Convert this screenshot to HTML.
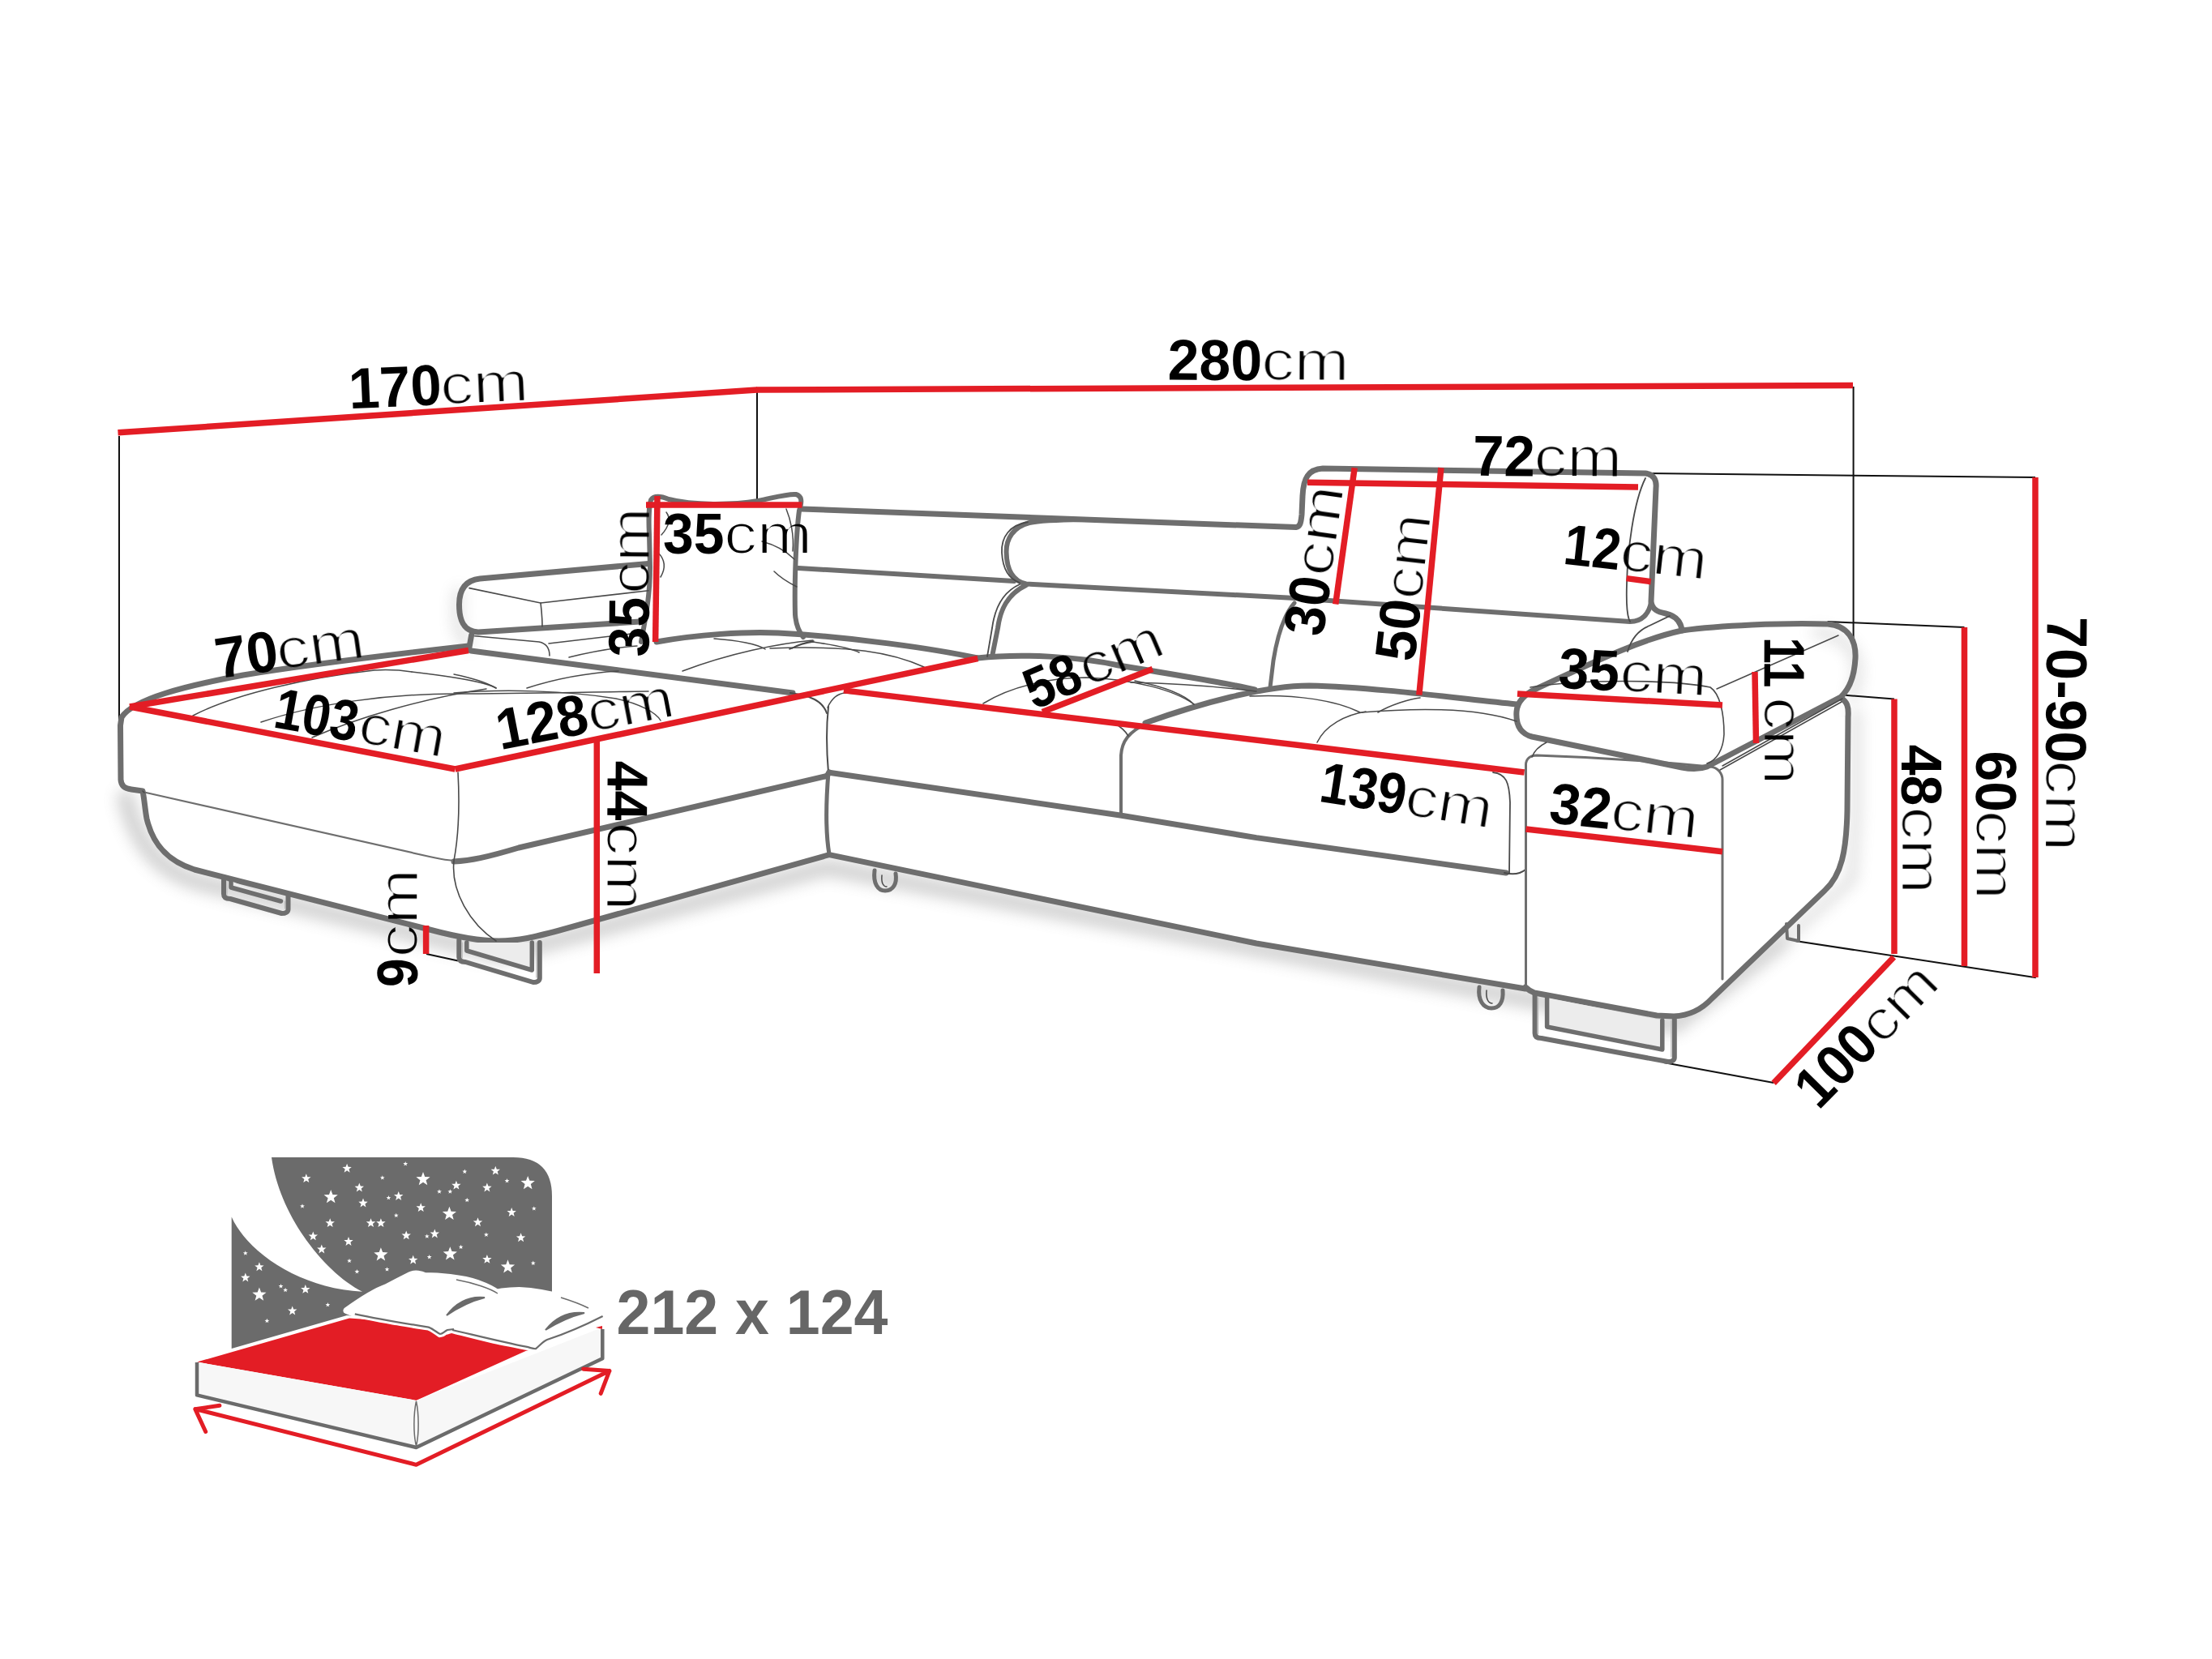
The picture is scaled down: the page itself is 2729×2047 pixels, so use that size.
<!DOCTYPE html>
<html><head><meta charset="utf-8"><style>
html,body{margin:0;padding:0;background:#fff;width:2729px;height:2047px;overflow:hidden}
svg{display:block}
text{font-family:"Liberation Sans", sans-serif;fill:#000}
</style></head><body>
<svg width="2729" height="2047" viewBox="0 0 2729 2047">
<defs><filter id="thin" x="-10%" y="-20%" width="120%" height="140%"><feMorphology operator="erode" radius="1"/></filter><filter id="blur" x="-20%" y="-20%" width="140%" height="140%"><feGaussianBlur stdDeviation="9"/></filter></defs>
<rect width="2729" height="2047" fill="#fff"/>
<g filter="url(#blur)" opacity="0.32">
<path d="M 155,985 C 170,1045 200,1080 260,1092 L 620,1178 L 1020,1070 L 1880,1232 L 2065,1265 L 2200,1160" stroke="#777" stroke-width="22" fill="none" stroke-linecap="round" stroke-linejoin="round" />
<path d="M 2200,1160 L 2285,1085 L 2290,1000 L 2290,880" stroke="#999" stroke-width="12" fill="none" stroke-linecap="round" stroke-linejoin="round" />
<path d="M 2240,780 C 2290,785 2300,820 2285,860" stroke="#888" stroke-width="10" fill="none" stroke-linecap="round" stroke-linejoin="round" />
<path d="M 566,730 C 560,780 570,790 580,795" stroke="#888" stroke-width="10" fill="none" stroke-linecap="round" stroke-linejoin="round" />
</g>
<path d="M 148.5,895 L 149,962 C 149.5,970 154,973 162,974 L 176,976 C 178,985 179,1000 181,1010 C 188,1040 205,1062 240,1073 L 530,1147 C 560,1155 590,1161 615,1161 C 640,1161 660,1156 690,1148 L 1018,1056 L 1023,1054.6 L 1550,1164 L 1882,1220 C 1885,1221 1888,1223 1893,1225 L 2044,1253 L 2065,1254 C 2085,1253 2100,1245 2112,1232 L 2251,1099 C 2272,1080 2278,1050 2279,1000 L 2280,885 L 2150,880 L 1000,880 L 300,833 L 160,866 Z" fill="#fff"/>
<line x1="147" y1="538" x2="147" y2="889" stroke="#111" stroke-width="2" stroke-linecap="butt"/>
<line x1="934" y1="483" x2="934" y2="617" stroke="#111" stroke-width="2" stroke-linecap="butt"/>
<line x1="2286.6" y1="477" x2="2286.6" y2="800" stroke="#111" stroke-width="2" stroke-linecap="butt"/>
<line x1="2030" y1="584" x2="2511" y2="589" stroke="#111" stroke-width="2" stroke-linecap="butt"/>
<line x1="2254.6" y1="767" x2="2423.5" y2="774" stroke="#111" stroke-width="2" stroke-linecap="butt"/>
<line x1="2276" y1="857.8" x2="2337" y2="862.5" stroke="#111" stroke-width="2" stroke-linecap="butt"/>
<line x1="2215" y1="1161" x2="2511.8" y2="1206.2" stroke="#111" stroke-width="2" stroke-linecap="butt"/>
<line x1="2052.5" y1="1311" x2="2188.2" y2="1336" stroke="#111" stroke-width="2" stroke-linecap="butt"/>
<line x1="526" y1="1177" x2="565" y2="1185.5" stroke="#111" stroke-width="2" stroke-linecap="butt"/>
<path d="M 578,797 C 480,808 380,820 300,833 C 230,846 165,862 150,885 L 148.5,895 L 149,962 C 149.5,970 154,973 162,974 L 176,976 C 178,985 179,1000 181,1010 C 188,1040 205,1062 240,1073 L 530,1147 C 560,1155 590,1161 615,1161 C 640,1161 660,1156 690,1148 L 1018,1056 L 1023,1054.6 L 1550,1164 L 1882,1220" stroke="#6e6e6e" stroke-width="7" fill="none" stroke-linecap="round" stroke-linejoin="round" />
<path d="M 178,977.5 L 530,1057 C 548,1061 560,1063 575,1061" stroke="#6e6e6e" stroke-width="2.2" fill="none" stroke-linecap="round" stroke-linejoin="round" />
<path d="M 560,1063 C 580,1062 600,1058 640,1046 L 1018,958 C 1021,957 1022,955 1023,953" stroke="#6e6e6e" stroke-width="7" fill="none" stroke-linecap="round" stroke-linejoin="round" />
<path d="M 1022,872 C 1019,900 1020,930 1022,953" stroke="#4a4a4a" stroke-width="2" fill="none" stroke-linecap="round" stroke-linejoin="round" />
<path d="M 1022,953 C 1019,990 1019,1030 1023,1054" stroke="#6e6e6e" stroke-width="5" fill="none" stroke-linecap="round" stroke-linejoin="round" />
<path d="M 1023,953.2 L 1382,1006 L 1550,1033.6 L 1858,1077" stroke="#6e6e6e" stroke-width="7" fill="none" stroke-linecap="round" stroke-linejoin="round" />
<path d="M 1856,1077 C 1868,1080 1876,1078 1882,1073" stroke="#4a4a4a" stroke-width="2" fill="none" stroke-linecap="round" stroke-linejoin="round" />
<path d="M 581,803 L 978,855" stroke="#6e6e6e" stroke-width="7" fill="none" stroke-linecap="round" stroke-linejoin="round" />
<path d="M 975,855 C 1000,858 1015,865 1020,880" stroke="#4a4a4a" stroke-width="2" fill="none" stroke-linecap="round" stroke-linejoin="round" />
<path d="M 800,695.4 L 592,714 C 574,716 566.5,728 566.5,746 C 566.5,766 572,779 590,780 L 789.5,767" stroke="#6e6e6e" stroke-width="7" fill="none" stroke-linecap="round" stroke-linejoin="round" />
<path d="M 581.6,783.8 L 578.5,801.5" stroke="#6e6e6e" stroke-width="7" fill="none" stroke-linecap="round" stroke-linejoin="round" />
<path d="M 791,792 C 796,765 802,735 802,700 L 801,660 C 800,640 801,622 803,617 C 807,611 815,612 825,616 C 855,624 905,623 935,618 C 955,614 972,609 982,610 C 989,612 990,618 986,630 C 982,660 980,720 981,758 C 982,772 986,780 991,786" stroke="#6e6e6e" stroke-width="6" fill="none" stroke-linecap="round" stroke-linejoin="round" />
<path d="M 810,792 C 860,783 920,779 960,781 C 1050,786 1150,800 1206,812" stroke="#6e6e6e" stroke-width="7" fill="none" stroke-linecap="round" stroke-linejoin="round" />
<path d="M 1206,812 C 1260,806 1330,810 1380,821 C 1460,834 1520,844 1548,851" stroke="#6e6e6e" stroke-width="7" fill="none" stroke-linecap="round" stroke-linejoin="round" />
<path d="M 1413,892 C 1480,868 1560,846 1615,846 C 1700,848 1800,862 1871,869" stroke="#6e6e6e" stroke-width="7" fill="none" stroke-linecap="round" stroke-linejoin="round" />
<path d="M 989,628 L 1599,650.6 C 1604,650 1605,645 1606,635 L 1607,612 C 1608,590 1614,579 1632,578 L 2030,584 C 2040,585 2044,592 2043,602 L 2037,742 C 2038,752 2045,755 2055,757 C 2068,760 2074,768 2075,778" stroke="#6e6e6e" stroke-width="7" fill="none" stroke-linecap="round" stroke-linejoin="round" />
<path d="M 985,701 L 1251,717" stroke="#6e6e6e" stroke-width="6" fill="none" stroke-linecap="round" stroke-linejoin="round" />
<path d="M 1335,641 C 1300,641.5 1282,642.5 1270,645 C 1250,650 1241,665 1241.6,682 C 1242,703 1250,717 1266,720.5 L 1593,737.7 L 2011,767 C 2025,767 2035,758 2037,742" stroke="#6e6e6e" stroke-width="6" fill="none" stroke-linecap="round" stroke-linejoin="round" />
<path d="M 1268,644 C 1246,648 1235,662 1236,682 C 1237,700 1244,714 1258,719" stroke="#4a4a4a" stroke-width="1.8" fill="none" stroke-linecap="round" stroke-linejoin="round" />
<path d="M 1266,722 C 1243,733 1234,752 1231,775 L 1224,810" stroke="#6e6e6e" stroke-width="6" fill="none" stroke-linecap="round" stroke-linejoin="round" />
<path d="M 1258,721 C 1236,731 1227,752 1224,775 L 1218,810" stroke="#4a4a4a" stroke-width="1.8" fill="none" stroke-linecap="round" stroke-linejoin="round" />
<path d="M 1597,744 C 1583,760 1575,790 1571,815 L 1567,848" stroke="#6e6e6e" stroke-width="5" fill="none" stroke-linecap="round" stroke-linejoin="round" />
<path d="M 2075,778 C 2120,772 2200,768 2255,770 C 2280,772 2290,790 2289,812 C 2288,832 2282,850 2271,860 L 2106,946 C 2095,950 2085,949 2075,947 L 1890,909 C 1875,905 1870,893 1871,878 C 1872,866 1880,857 1895,850 C 1960,820 2020,790 2075,778" stroke="#6e6e6e" stroke-width="7" fill="none" stroke-linecap="round" stroke-linejoin="round" />
<path d="M 2271,861 C 2279,866 2281,872 2280,885 L 2279,1000 C 2278,1050 2272,1080 2251,1099 L 2112,1232 C 2100,1245 2085,1253 2065,1254 L 2044,1253 L 1893,1225 C 1888,1223 1885,1221 1882,1218" stroke="#6e6e6e" stroke-width="7" fill="none" stroke-linecap="round" stroke-linejoin="round" />
<path d="M 1882.5,1218 L 1882.5,945 C 1882,936 1888,932 1896,932 C 1960,934 2050,940 2110,946 C 2120,947 2125,955 2125,962 L 2125,1208" stroke="#6e6e6e" stroke-width="3" fill="none" stroke-linecap="round" stroke-linejoin="round" />
<path d="M 2118,850 L 2268,784" stroke="#4a4a4a" stroke-width="1.5" fill="none" stroke-linecap="round" stroke-linejoin="round" />
<path d="M 2122,950 L 2272,866" stroke="#4a4a4a" stroke-width="1.5" fill="none" stroke-linecap="round" stroke-linejoin="round" />
<path d="M 2125,945 L 2273,862" stroke="#4a4a4a" stroke-width="1.5" fill="none" stroke-linecap="round" stroke-linejoin="round" />
<path d="M 2030,590 C 2015,620 2008,680 2007,720 C 2006,750 2008,762 2011,767" stroke="#4a4a4a" stroke-width="1.8" fill="none" stroke-linecap="round" stroke-linejoin="round" />
<path d="M 2008,804 C 2012,790 2020,778 2035,772 L 2060,760" stroke="#4a4a4a" stroke-width="1.8" fill="none" stroke-linecap="round" stroke-linejoin="round" />
<path d="M 1842,953 C 1858,955 1862,965 1863,990 L 1862,1078" stroke="#4a4a4a" stroke-width="1.8" fill="none" stroke-linecap="round" stroke-linejoin="round" />
<path d="M 1383,1004 L 1383,932 C 1384,915 1392,903 1416,892" stroke="#6e6e6e" stroke-width="4" fill="none" stroke-linecap="round" stroke-linejoin="round" />
<path d="M 1372,890 C 1380,895 1388,901 1392,908" stroke="#4a4a4a" stroke-width="1.6" fill="none" stroke-linecap="round" stroke-linejoin="round" />
<path d="M 1700,879 C 1715,870 1740,862 1752,861" stroke="#4a4a4a" stroke-width="1.6" fill="none" stroke-linecap="round" stroke-linejoin="round" />
<path d="M 565,953 C 567,990 566,1030 560,1062 C 556,1100 580,1140 612,1161" stroke="#4a4a4a" stroke-width="1.6" fill="none" stroke-linecap="round" stroke-linejoin="round" />
<path d="M 178,978 L 176,976" stroke="#4a4a4a" stroke-width="1.6" fill="none" stroke-linecap="round" stroke-linejoin="round" />
<path d="M 579,725.6 L 667,744 L 800,728.7" stroke="#4a4a4a" stroke-width="1.6" fill="none" stroke-linecap="round" stroke-linejoin="round" />
<path d="M 667,744 C 669,760 669,770 669,773" stroke="#4a4a4a" stroke-width="1.6" fill="none" stroke-linecap="round" stroke-linejoin="round" />
<path d="M 585.7,784.8 L 665,792 C 675,794 678,800 678,809" stroke="#4a4a4a" stroke-width="1.6" fill="none" stroke-linecap="round" stroke-linejoin="round" />
<path d="M 677,794 L 789.5,780.7" stroke="#4a4a4a" stroke-width="1.6" fill="none" stroke-linecap="round" stroke-linejoin="round" />
<path d="M 238,883 C 290,856 380,836 462,827 C 480,826 495,827 508,829" stroke="#4a4a4a" stroke-width="1.5" fill="none" stroke-linecap="round" stroke-linejoin="round" />
<path d="M 322,891 C 390,868 480,856 562,856 C 640,856 720,854 800,853" stroke="#4a4a4a" stroke-width="1.5" fill="none" stroke-linecap="round" stroke-linejoin="round" />
<path d="M 385,910 C 440,886 520,862 600,850" stroke="#4a4a4a" stroke-width="1.5" fill="none" stroke-linecap="round" stroke-linejoin="round" />
<path d="M 508,829 C 560,835 600,842 612,849" stroke="#4a4a4a" stroke-width="1.5" fill="none" stroke-linecap="round" stroke-linejoin="round" />
<path d="M 560,832 C 580,836 600,842 612,849" stroke="#4a4a4a" stroke-width="1.5" fill="none" stroke-linecap="round" stroke-linejoin="round" />
<path d="M 560,855 C 620,850 700,852 760,862 C 790,868 810,880 815,889" stroke="#4a4a4a" stroke-width="1.5" fill="none" stroke-linecap="round" stroke-linejoin="round" />
<path d="M 650,849 C 690,836 730,830 763,828" stroke="#4a4a4a" stroke-width="1.5" fill="none" stroke-linecap="round" stroke-linejoin="round" />
<path d="M 842,828 C 900,806 960,794 1003,790" stroke="#4a4a4a" stroke-width="1.5" fill="none" stroke-linecap="round" stroke-linejoin="round" />
<path d="M 702,811 C 730,804 760,799 786,797" stroke="#4a4a4a" stroke-width="1.5" fill="none" stroke-linecap="round" stroke-linejoin="round" />
<path d="M 881,788 C 910,790 935,795 944,801" stroke="#4a4a4a" stroke-width="1.5" fill="none" stroke-linecap="round" stroke-linejoin="round" />
<path d="M 974,801 C 985,796 995,793 1003,792 C 1030,796 1050,800 1060,805" stroke="#4a4a4a" stroke-width="1.5" fill="none" stroke-linecap="round" stroke-linejoin="round" />
<path d="M 950,800 C 1050,796 1100,805 1140,823" stroke="#4a4a4a" stroke-width="1.5" fill="none" stroke-linecap="round" stroke-linejoin="round" />
<path d="M 977,800 C 985,795 995,792 1004,791" stroke="#4a4a4a" stroke-width="1.5" fill="none" stroke-linecap="round" stroke-linejoin="round" />
<path d="M 1213,868 C 1250,845 1300,836 1340,836 C 1400,838 1450,852 1473,869" stroke="#4a4a4a" stroke-width="1.5" fill="none" stroke-linecap="round" stroke-linejoin="round" />
<path d="M 1395,842 C 1450,843 1510,848 1550,853" stroke="#4a4a4a" stroke-width="1.5" fill="none" stroke-linecap="round" stroke-linejoin="round" />
<path d="M 1400,840 C 1430,846 1460,856 1473,869" stroke="#4a4a4a" stroke-width="1.5" fill="none" stroke-linecap="round" stroke-linejoin="round" />
<path d="M 1542,859 C 1600,856 1650,865 1678,879" stroke="#4a4a4a" stroke-width="1.5" fill="none" stroke-linecap="round" stroke-linejoin="round" />
<path d="M 1680,879 C 1740,874 1820,872 1871,890" stroke="#4a4a4a" stroke-width="1.5" fill="none" stroke-linecap="round" stroke-linejoin="round" />
<path d="M 1625,916 C 1635,895 1660,882 1685,878" stroke="#4a4a4a" stroke-width="1.5" fill="none" stroke-linecap="round" stroke-linejoin="round" />
<path d="M 1021,873 C 1026,862 1033,856 1042,855 L 1060,856" stroke="#4a4a4a" stroke-width="1.5" fill="none" stroke-linecap="round" stroke-linejoin="round" />
<path d="M 1888,848 C 1950,838 2060,838 2110,848 C 2122,856 2127,880 2127,906 C 2126,925 2118,938 2106,942" stroke="#4a4a4a" stroke-width="1.6" fill="none" stroke-linecap="round" stroke-linejoin="round" />
<path d="M 1908,916 C 1900,920 1893,926 1890,934" stroke="#4a4a4a" stroke-width="1.5" fill="none" stroke-linecap="round" stroke-linejoin="round" />
<path d="M 812,682 C 820,690 822,700 815,712" stroke="#4a4a4a" stroke-width="1.5" fill="none" stroke-linecap="round" stroke-linejoin="round" />
<path d="M 816,660 C 825,650 828,640 822,632" stroke="#4a4a4a" stroke-width="1.5" fill="none" stroke-linecap="round" stroke-linejoin="round" />
<path d="M 955,705 C 965,715 975,720 983,724" stroke="#4a4a4a" stroke-width="1.5" fill="none" stroke-linecap="round" stroke-linejoin="round" />
<path d="M 970,628 C 975,640 980,660 978,680" stroke="#4a4a4a" stroke-width="1.5" fill="none" stroke-linecap="round" stroke-linejoin="round" />
<path d="M 940,668 C 955,672 970,680 980,690" stroke="#4a4a4a" stroke-width="1.5" fill="none" stroke-linecap="round" stroke-linejoin="round" />
<path d="M 285,1087 L 285,1095 L 346.5,1112 L 346.5,1112 Z" fill="#ececec"/>
<path d="M 276,1082 L 276,1103 C 276,1107 279,1109 284,1109 L 347.5,1127 C 352.5,1127 355.5,1125 355.5,1122 L 355.5,1105" stroke="#6e6e6e" stroke-width="6" fill="none" stroke-linecap="round" stroke-linejoin="round" />
<path d="M 285,1087 L 285,1095 L 346.5,1112 L 346.5,1112" stroke="#6e6e6e" stroke-width="5.5" fill="none" stroke-linecap="round" stroke-linejoin="round" />
<path d="M 280,1087 L 280,1104" stroke="#bbb" stroke-width="1.2" fill="none" stroke-linecap="round" stroke-linejoin="round" />
<path d="M 351.5,1112 L 351.5,1121" stroke="#bbb" stroke-width="1.2" fill="none" stroke-linecap="round" stroke-linejoin="round" />
<path d="M 575.8,1163 L 575.8,1173 L 656.3,1197 L 656.3,1163 Z" fill="#ececec"/>
<path d="M 566.3,1160 L 566.3,1181 C 566.3,1185 569.3,1187 574.3,1187 L 657.8,1212 C 662.8,1212 665.8,1210 665.8,1207 L 665.8,1163" stroke="#6e6e6e" stroke-width="6" fill="none" stroke-linecap="round" stroke-linejoin="round" />
<path d="M 575.8,1163 L 575.8,1173 L 656.3,1197 L 656.3,1163" stroke="#6e6e6e" stroke-width="5.5" fill="none" stroke-linecap="round" stroke-linejoin="round" />
<path d="M 570.3,1163 L 570.3,1182" stroke="#bbb" stroke-width="1.2" fill="none" stroke-linecap="round" stroke-linejoin="round" />
<path d="M 661.8,1163 L 661.8,1206" stroke="#bbb" stroke-width="1.2" fill="none" stroke-linecap="round" stroke-linejoin="round" />
<path d="M 1908.6,1231 L 1908.6,1267 L 2050.8,1295 L 2050.8,1259 Z" fill="#ececec"/>
<path d="M 1893.6,1226 L 1893.6,1275 C 1893.6,1279 1896.6,1281 1901.6,1281 L 2057.8,1310 C 2062.8,1310 2065.8,1308 2065.8,1305 L 2065.8,1258" stroke="#6e6e6e" stroke-width="6" fill="none" stroke-linecap="round" stroke-linejoin="round" />
<path d="M 1908.6,1231 L 1908.6,1267 L 2050.8,1295 L 2050.8,1259" stroke="#6e6e6e" stroke-width="5.5" fill="none" stroke-linecap="round" stroke-linejoin="round" />
<path d="M 1897.6,1231 L 1897.6,1276" stroke="#bbb" stroke-width="1.2" fill="none" stroke-linecap="round" stroke-linejoin="round" />
<path d="M 2061.8,1259 L 2061.8,1304" stroke="#bbb" stroke-width="1.2" fill="none" stroke-linecap="round" stroke-linejoin="round" />
<path d="M 2204,1140 L 2205,1158 L 2219,1161 L 2219,1142" stroke="#6e6e6e" stroke-width="4" fill="none" stroke-linecap="round" stroke-linejoin="round" />
<path d="M 1079,1074 C 1077,1090 1083,1099 1092,1099 C 1102,1099 1107,1090 1105,1078" stroke="#6e6e6e" stroke-width="5" fill="none" stroke-linecap="round" stroke-linejoin="round" />
<path d="M 1088,1080 C 1087,1090 1090,1094 1094,1094" stroke="#4a4a4a" stroke-width="1.5" fill="none" stroke-linecap="round" stroke-linejoin="round" />
<path d="M 1825,1218 C 1823,1234 1830,1244 1840,1244 C 1850,1244 1855,1236 1854,1222" stroke="#6e6e6e" stroke-width="5" fill="none" stroke-linecap="round" stroke-linejoin="round" />
<path d="M 1834,1222 C 1833,1232 1836,1238 1841,1238" stroke="#4a4a4a" stroke-width="1.5" fill="none" stroke-linecap="round" stroke-linejoin="round" />
<line x1="145.5" y1="533.8" x2="934" y2="481" stroke="#e31d25" stroke-width="7.5" stroke-linecap="butt"/>
<line x1="933" y1="481" x2="2286" y2="475.5" stroke="#e31d25" stroke-width="7.5" stroke-linecap="butt"/>
<line x1="160" y1="872" x2="578" y2="802.5" stroke="#e31d25" stroke-width="7.5" stroke-linecap="butt"/>
<line x1="160" y1="872" x2="561.5" y2="949" stroke="#e31d25" stroke-width="7.5" stroke-linecap="butt"/>
<line x1="561.5" y1="949" x2="1206.3" y2="812.5" stroke="#e31d25" stroke-width="7.5" stroke-linecap="butt"/>
<line x1="1040.9" y1="851.9" x2="1880.6" y2="953" stroke="#e31d25" stroke-width="7.5" stroke-linecap="butt"/>
<line x1="1286" y1="878.5" x2="1422" y2="825.5" stroke="#e31d25" stroke-width="7.5" stroke-linecap="butt"/>
<line x1="736.3" y1="914" x2="736.3" y2="1201" stroke="#e31d25" stroke-width="7.5" stroke-linecap="butt"/>
<line x1="525.6" y1="1142" x2="525.6" y2="1177" stroke="#e31d25" stroke-width="7.5" stroke-linecap="butt"/>
<line x1="797" y1="623" x2="989.5" y2="623" stroke="#e31d25" stroke-width="7.5" stroke-linecap="butt"/>
<line x1="811" y1="612" x2="808.6" y2="792" stroke="#e31d25" stroke-width="7.5" stroke-linecap="butt"/>
<line x1="1613" y1="595.3" x2="2021" y2="601" stroke="#e31d25" stroke-width="7.5" stroke-linecap="butt"/>
<line x1="1671.2" y1="577.2" x2="1647.7" y2="745.4" stroke="#e31d25" stroke-width="7.5" stroke-linecap="butt"/>
<line x1="1777.9" y1="577.2" x2="1750.8" y2="857.5" stroke="#e31d25" stroke-width="7.5" stroke-linecap="butt"/>
<line x1="2006.6" y1="713.6" x2="2036.7" y2="717.7" stroke="#e31d25" stroke-width="7.5" stroke-linecap="butt"/>
<line x1="1872" y1="856" x2="2125" y2="870" stroke="#e31d25" stroke-width="7.5" stroke-linecap="butt"/>
<line x1="2165" y1="829" x2="2166.5" y2="917" stroke="#e31d25" stroke-width="7.5" stroke-linecap="butt"/>
<line x1="1882.5" y1="1023" x2="2125" y2="1050.7" stroke="#e31d25" stroke-width="7.5" stroke-linecap="butt"/>
<line x1="2337" y1="862.5" x2="2337" y2="1177" stroke="#e31d25" stroke-width="7.5" stroke-linecap="butt"/>
<line x1="2423.5" y1="774" x2="2423.5" y2="1192" stroke="#e31d25" stroke-width="7.5" stroke-linecap="butt"/>
<line x1="2511" y1="589" x2="2511" y2="1206" stroke="#e31d25" stroke-width="7.5" stroke-linecap="butt"/>
<line x1="2336.4" y1="1181" x2="2188.2" y2="1336.4" stroke="#e31d25" stroke-width="7.5" stroke-linecap="butt"/>
<g transform="translate(431.23 504.22) rotate(-2.55)"><text x="0" y="0" font-weight="bold" font-size="71" textLength="114.43" lengthAdjust="spacingAndGlyphs">170</text><text x="113.01" y="0" font-size="71" filter="url(#thin)" textLength="108.92" lengthAdjust="spacingAndGlyphs">cm</text></g>
<g transform="translate(1440.53 468.53) rotate(0.26)"><text x="0" y="0" font-weight="bold" font-size="71" textLength="116.45" lengthAdjust="spacingAndGlyphs">280</text><text x="115.81" y="0" font-size="71" filter="url(#thin)" textLength="108.05" lengthAdjust="spacingAndGlyphs">cm</text></g>
<g transform="translate(1816.89 586.78) rotate(0.55)"><text x="0" y="0" font-weight="bold" font-size="71" textLength="76.62" lengthAdjust="spacingAndGlyphs">72</text><text x="75.6" y="0" font-size="71" filter="url(#thin)" textLength="108.66" lengthAdjust="spacingAndGlyphs">cm</text></g>
<g transform="translate(1927.34 695.4) rotate(6.42)"><text x="0" y="0" font-weight="bold" font-size="71" textLength="70.1" lengthAdjust="spacingAndGlyphs">12</text><text x="69.83" y="0" font-size="71" filter="url(#thin)" textLength="108.0" lengthAdjust="spacingAndGlyphs">cm</text></g>
<g transform="translate(1921.79 848.51) rotate(3.19)"><text x="0" y="0" font-weight="bold" font-size="71" textLength="75.19" lengthAdjust="spacingAndGlyphs">35</text><text x="75.75" y="0" font-size="71" filter="url(#thin)" textLength="107.78" lengthAdjust="spacingAndGlyphs">cm</text></g>
<g transform="translate(2176.79 785.96) rotate(90.18)"><text x="0" y="0" font-weight="bold" font-size="71" textLength="62.33" lengthAdjust="spacingAndGlyphs">11</text><text x="74.06" y="0" font-size="71" filter="url(#thin)" textLength="108.29" lengthAdjust="spacingAndGlyphs">cm</text></g>
<g transform="translate(2525.69 760.61) rotate(90.53)"><text x="0" y="0" font-weight="bold" font-size="71" textLength="180.55" lengthAdjust="spacingAndGlyphs">70-90</text><text x="177.3" y="0" font-size="71" filter="url(#thin)" textLength="112.24" lengthAdjust="spacingAndGlyphs">cm</text></g>
<g transform="translate(2438.19 926.56) rotate(90.11)"><text x="0" y="0" font-weight="bold" font-size="71" textLength="75.27" lengthAdjust="spacingAndGlyphs">60</text><text x="73.32" y="0" font-size="71" filter="url(#thin)" textLength="109.96" lengthAdjust="spacingAndGlyphs">cm</text></g>
<g transform="translate(2346.47 918.84) rotate(90.01)"><text x="0" y="0" font-weight="bold" font-size="71" textLength="75.52" lengthAdjust="spacingAndGlyphs">48</text><text x="76.54" y="0" font-size="71" filter="url(#thin)" textLength="107.47" lengthAdjust="spacingAndGlyphs">cm</text></g>
<g transform="translate(1909.73 1014.78) rotate(6.17)"><text x="0" y="0" font-weight="bold" font-size="71" textLength="76.36" lengthAdjust="spacingAndGlyphs">32</text><text x="76.14" y="0" font-size="71" filter="url(#thin)" textLength="108.3" lengthAdjust="spacingAndGlyphs">cm</text></g>
<g transform="translate(1625.75 988.49) rotate(9.02)"><text x="0" y="0" font-weight="bold" font-size="71" textLength="106.84" lengthAdjust="spacingAndGlyphs">139</text><text x="106.62" y="0" font-size="71" filter="url(#thin)" textLength="108.21" lengthAdjust="spacingAndGlyphs">cm</text></g>
<g transform="translate(1275.92 876.28) rotate(-23.15)"><text x="0" y="0" font-weight="bold" font-size="71" textLength="69.37" lengthAdjust="spacingAndGlyphs">58</text><text x="72.08" y="0" font-size="71" filter="url(#thin)" textLength="106.77" lengthAdjust="spacingAndGlyphs">cm</text></g>
<g transform="translate(269.11 837.26) rotate(-8.14)"><text x="0" y="0" font-weight="bold" font-size="71" textLength="77.45" lengthAdjust="spacingAndGlyphs">70</text><text x="75.86" y="0" font-size="71" filter="url(#thin)" textLength="108.97" lengthAdjust="spacingAndGlyphs">cm</text></g>
<g transform="translate(335.5 897.04) rotate(10.16)"><text x="0" y="0" font-weight="bold" font-size="71" textLength="103.87" lengthAdjust="spacingAndGlyphs">103</text><text x="105.68" y="0" font-size="71" filter="url(#thin)" textLength="107.88" lengthAdjust="spacingAndGlyphs">cm</text></g>
<g transform="translate(617.32 925.29) rotate(-10.95)"><text x="0" y="0" font-weight="bold" font-size="71" textLength="113.56" lengthAdjust="spacingAndGlyphs">128</text><text x="113.66" y="0" font-size="71" filter="url(#thin)" textLength="107.79" lengthAdjust="spacingAndGlyphs">cm</text></g>
<g transform="translate(749.65 938.79) rotate(90.4)"><text x="0" y="0" font-weight="bold" font-size="71" textLength="73.56" lengthAdjust="spacingAndGlyphs">44</text><text x="75.63" y="0" font-size="71" filter="url(#thin)" textLength="109.03" lengthAdjust="spacingAndGlyphs">cm</text></g>
<g transform="translate(514.7 1218.2) rotate(-89.73)"><text x="0" y="0" font-weight="bold" font-size="71" textLength="35.65" lengthAdjust="spacingAndGlyphs">9</text><text x="36.77" y="0" font-size="71" filter="url(#thin)" textLength="109.05" lengthAdjust="spacingAndGlyphs">cm</text></g>
<g transform="translate(800.3 810.43) rotate(-89.56)"><text x="0" y="0" font-weight="bold" font-size="71" textLength="73.35" lengthAdjust="spacingAndGlyphs">35</text><text x="77.23" y="0" font-size="71" filter="url(#thin)" textLength="106.51" lengthAdjust="spacingAndGlyphs">cm</text></g>
<g transform="translate(818.02 682.53) rotate(0.0)"><text x="0" y="0" font-weight="bold" font-size="71" textLength="75.5" lengthAdjust="spacingAndGlyphs">35</text><text x="75.13" y="0" font-size="71" filter="url(#thin)" textLength="108.77" lengthAdjust="spacingAndGlyphs">cm</text></g>
<g transform="translate(1632.05 786.49) rotate(-81.96)"><text x="0" y="0" font-weight="bold" font-size="71" textLength="72.88" lengthAdjust="spacingAndGlyphs">30</text><text x="74.19" y="0" font-size="71" filter="url(#thin)" textLength="111.66" lengthAdjust="spacingAndGlyphs">cm</text></g>
<g transform="translate(1745.04 817.58) rotate(-83.54)"><text x="0" y="0" font-weight="bold" font-size="71" textLength="75.98" lengthAdjust="spacingAndGlyphs">50</text><text x="76.81" y="0" font-size="71" filter="url(#thin)" textLength="105.5" lengthAdjust="spacingAndGlyphs">cm</text></g>
<g transform="translate(2243.49 1370.68) rotate(-45.46)"><text x="0" y="0" font-weight="bold" font-size="71" textLength="109.99" lengthAdjust="spacingAndGlyphs">100</text><text x="111.17" y="0" font-size="71" filter="url(#thin)" textLength="105.45" lengthAdjust="spacingAndGlyphs">cm</text></g>
<path d="M 335,1428 L 633,1428 Q 681,1428 681,1476 L 681,1640 L 600,1640 L 428,1623 L 285.7,1664 L 285.7,1501.6 C 305,1545 370,1590 447,1593.7 C 400,1570 345,1500 335,1428 Z" fill="#6b6b6b"/>
<polygon points="408.2,1468.0 410.4,1473.9 416.8,1474.2 411.8,1478.2 413.5,1484.3 408.2,1480.8 402.9,1484.3 404.6,1478.2 399.6,1474.2 406.0,1473.9" fill="#fff"/>
<polygon points="522.0,1446.0 524.2,1451.9 530.6,1452.2 525.6,1456.2 527.3,1462.3 522.0,1458.8 516.7,1462.3 518.4,1456.2 513.4,1452.2 519.8,1451.9" fill="#fff"/>
<polygon points="651.2,1450.9 653.4,1456.8 659.8,1457.1 654.8,1461.1 656.5,1467.2 651.2,1463.7 645.9,1467.2 647.6,1461.1 642.6,1457.1 649.0,1456.8" fill="#fff"/>
<polygon points="554.4,1488.8 556.6,1494.7 563.0,1495.0 558.0,1499.0 559.7,1505.1 554.4,1501.6 549.1,1505.1 550.8,1499.0 545.8,1495.0 552.2,1494.7" fill="#fff"/>
<polygon points="469.9,1539.2 472.1,1545.1 478.5,1545.4 473.5,1549.4 475.2,1555.5 469.9,1552.0 464.6,1555.5 466.3,1549.4 461.3,1545.4 467.7,1545.1" fill="#fff"/>
<polygon points="555.3,1538.2 557.5,1544.1 563.9,1544.4 558.9,1548.4 560.6,1554.5 555.3,1551.0 550.0,1554.5 551.7,1548.4 546.7,1544.4 553.1,1544.1" fill="#fff"/>
<polygon points="626.5,1554.3 628.7,1560.2 635.1,1560.5 630.1,1564.5 631.8,1570.6 626.5,1567.1 621.2,1570.6 622.9,1564.5 617.9,1560.5 624.3,1560.2" fill="#fff"/>
<polygon points="319.9,1588.5 322.1,1594.4 328.5,1594.7 323.5,1598.7 325.2,1604.8 319.9,1601.3 314.6,1604.8 316.3,1598.7 311.3,1594.7 317.7,1594.4" fill="#fff"/>
<polygon points="428.1,1435.8 429.6,1439.8 433.8,1439.9 430.5,1442.6 431.6,1446.7 428.1,1444.3 424.6,1446.7 425.7,1442.6 422.4,1439.9 426.6,1439.8" fill="#fff"/>
<polygon points="377.8,1448.2 379.3,1452.2 383.5,1452.3 380.2,1455.0 381.3,1459.1 377.8,1456.7 374.3,1459.1 375.4,1455.0 372.1,1452.3 376.3,1452.2" fill="#fff"/>
<polygon points="443.3,1459.6 444.8,1463.6 449.0,1463.7 445.7,1466.4 446.8,1470.5 443.3,1468.1 439.8,1470.5 440.9,1466.4 437.6,1463.7 441.8,1463.6" fill="#fff"/>
<polygon points="448.0,1478.6 449.5,1482.6 453.7,1482.7 450.4,1485.4 451.5,1489.5 448.0,1487.1 444.5,1489.5 445.6,1485.4 442.3,1482.7 446.5,1482.6" fill="#fff"/>
<polygon points="491.7,1470.0 493.2,1474.0 497.4,1474.1 494.1,1476.8 495.2,1480.9 491.7,1478.5 488.2,1480.9 489.3,1476.8 486.0,1474.1 490.2,1474.0" fill="#fff"/>
<polygon points="562.9,1456.7 564.4,1460.7 568.6,1460.8 565.3,1463.5 566.4,1467.6 562.9,1465.2 559.4,1467.6 560.5,1463.5 557.2,1460.8 561.4,1460.7" fill="#fff"/>
<polygon points="611.3,1438.7 612.8,1442.7 617.0,1442.8 613.7,1445.5 614.8,1449.6 611.3,1447.2 607.8,1449.6 608.9,1445.5 605.6,1442.8 609.8,1442.7" fill="#fff"/>
<polygon points="600.9,1459.6 602.4,1463.6 606.6,1463.7 603.3,1466.4 604.4,1470.5 600.9,1468.1 597.4,1470.5 598.5,1466.4 595.2,1463.7 599.4,1463.6" fill="#fff"/>
<polygon points="519.2,1484.2 520.7,1488.2 524.9,1488.3 521.6,1491.0 522.7,1495.1 519.2,1492.7 515.7,1495.1 516.8,1491.0 513.5,1488.3 517.7,1488.2" fill="#fff"/>
<polygon points="407.2,1503.2 408.7,1507.2 412.9,1507.3 409.6,1510.0 410.7,1514.1 407.2,1511.7 403.7,1514.1 404.8,1510.0 401.5,1507.3 405.7,1507.2" fill="#fff"/>
<polygon points="457.5,1503.2 459.0,1507.2 463.2,1507.3 459.9,1510.0 461.0,1514.1 457.5,1511.7 454.0,1514.1 455.1,1510.0 451.8,1507.3 456.0,1507.2" fill="#fff"/>
<polygon points="469.9,1503.2 471.4,1507.2 475.6,1507.3 472.3,1510.0 473.4,1514.1 469.9,1511.7 466.4,1514.1 467.5,1510.0 464.2,1507.3 468.4,1507.2" fill="#fff"/>
<polygon points="386.3,1519.4 387.8,1523.4 392.0,1523.5 388.7,1526.2 389.8,1530.3 386.3,1527.9 382.8,1530.3 383.9,1526.2 380.6,1523.5 384.8,1523.4" fill="#fff"/>
<polygon points="430.0,1526.0 431.5,1530.0 435.7,1530.1 432.4,1532.8 433.5,1536.9 430.0,1534.5 426.5,1536.9 427.6,1532.8 424.3,1530.1 428.5,1530.0" fill="#fff"/>
<polygon points="396.8,1535.5 398.3,1539.5 402.5,1539.6 399.2,1542.3 400.3,1546.4 396.8,1544.0 393.3,1546.4 394.4,1542.3 391.1,1539.6 395.3,1539.5" fill="#fff"/>
<polygon points="501.2,1518.4 502.7,1522.4 506.9,1522.5 503.6,1525.2 504.7,1529.3 501.2,1526.9 497.7,1529.3 498.8,1525.2 495.5,1522.5 499.7,1522.4" fill="#fff"/>
<polygon points="536.3,1516.5 537.8,1520.5 542.0,1520.6 538.7,1523.3 539.8,1527.4 536.3,1525.0 532.8,1527.4 533.9,1523.3 530.6,1520.6 534.8,1520.5" fill="#fff"/>
<polygon points="589.5,1502.3 591.0,1506.3 595.2,1506.4 591.9,1509.1 593.0,1513.2 589.5,1510.8 586.0,1513.2 587.1,1509.1 583.8,1506.4 588.0,1506.3" fill="#fff"/>
<polygon points="631.2,1490.0 632.7,1494.0 636.9,1494.1 633.6,1496.8 634.7,1500.9 631.2,1498.5 627.7,1500.9 628.8,1496.8 625.5,1494.1 629.7,1494.0" fill="#fff"/>
<polygon points="642.6,1521.3 644.1,1525.3 648.3,1525.4 645.0,1528.1 646.1,1532.2 642.6,1529.8 639.1,1532.2 640.2,1528.1 636.9,1525.4 641.1,1525.3" fill="#fff"/>
<polygon points="509.7,1548.8 511.2,1552.8 515.4,1552.9 512.1,1555.6 513.2,1559.7 509.7,1557.3 506.2,1559.7 507.3,1555.6 504.0,1552.9 508.2,1552.8" fill="#fff"/>
<polygon points="600.9,1547.9 602.4,1551.9 606.6,1552.0 603.3,1554.7 604.4,1558.8 600.9,1556.4 597.4,1558.8 598.5,1554.7 595.2,1552.0 599.4,1551.9" fill="#fff"/>
<polygon points="319.9,1557.3 321.4,1561.3 325.6,1561.4 322.3,1564.1 323.4,1568.2 319.9,1565.8 316.4,1568.2 317.5,1564.1 314.2,1561.4 318.4,1561.3" fill="#fff"/>
<polygon points="302.8,1570.6 304.3,1574.6 308.5,1574.7 305.2,1577.4 306.3,1581.5 302.8,1579.1 299.3,1581.5 300.4,1577.4 297.1,1574.7 301.3,1574.6" fill="#fff"/>
<polygon points="376.8,1584.9 378.3,1588.9 382.5,1589.0 379.2,1591.7 380.3,1595.8 376.8,1593.4 373.3,1595.8 374.4,1591.7 371.1,1589.0 375.3,1588.9" fill="#fff"/>
<polygon points="360.7,1611.5 362.2,1615.5 366.4,1615.6 363.1,1618.3 364.2,1622.4 360.7,1620.0 357.2,1622.4 358.3,1618.3 355.0,1615.6 359.2,1615.5" fill="#fff"/>
<polygon points="500.2,1433.0 500.9,1435.0 503.1,1435.1 501.4,1436.4 502.0,1438.4 500.2,1437.3 498.4,1438.4 499.0,1436.4 497.3,1435.1 499.5,1435.0" fill="#fff"/>
<polygon points="471.8,1450.2 472.5,1452.2 474.7,1452.3 473.0,1453.6 473.6,1455.6 471.8,1454.5 470.0,1455.6 470.6,1453.6 468.9,1452.3 471.1,1452.2" fill="#fff"/>
<polygon points="573.3,1442.6 574.0,1444.6 576.2,1444.7 574.5,1446.0 575.1,1448.0 573.3,1446.9 571.5,1448.0 572.1,1446.0 570.4,1444.7 572.6,1444.6" fill="#fff"/>
<polygon points="625.5,1454.0 626.2,1456.0 628.4,1456.1 626.7,1457.4 627.3,1459.4 625.5,1458.3 623.7,1459.4 624.3,1457.4 622.6,1456.1 624.8,1456.0" fill="#fff"/>
<polygon points="542.0,1467.3 542.7,1469.3 544.9,1469.4 543.2,1470.7 543.8,1472.7 542.0,1471.6 540.2,1472.7 540.8,1470.7 539.1,1469.4 541.3,1469.3" fill="#fff"/>
<polygon points="555.3,1467.3 556.0,1469.3 558.2,1469.4 556.5,1470.7 557.1,1472.7 555.3,1471.6 553.5,1472.7 554.1,1470.7 552.4,1469.4 554.6,1469.3" fill="#fff"/>
<polygon points="479.4,1474.9 480.1,1476.9 482.3,1477.0 480.6,1478.3 481.2,1480.3 479.4,1479.2 477.6,1480.3 478.2,1478.3 476.5,1477.0 478.7,1476.9" fill="#fff"/>
<polygon points="576.2,1477.8 576.9,1479.8 579.1,1479.9 577.4,1481.2 578.0,1483.2 576.2,1482.1 574.4,1483.2 575.0,1481.2 573.3,1479.9 575.5,1479.8" fill="#fff"/>
<polygon points="373.0,1485.3 373.7,1487.3 375.9,1487.4 374.2,1488.7 374.8,1490.7 373.0,1489.6 371.2,1490.7 371.8,1488.7 370.1,1487.4 372.3,1487.3" fill="#fff"/>
<polygon points="488.8,1496.7 489.5,1498.7 491.7,1498.8 490.0,1500.1 490.6,1502.1 488.8,1501.0 487.0,1502.1 487.6,1500.1 485.9,1498.8 488.1,1498.7" fill="#fff"/>
<polygon points="658.8,1488.2 659.5,1490.2 661.7,1490.3 660.0,1491.6 660.6,1493.6 658.8,1492.5 657.0,1493.6 657.6,1491.6 655.9,1490.3 658.1,1490.2" fill="#fff"/>
<polygon points="526.8,1522.4 527.5,1524.4 529.7,1524.5 528.0,1525.8 528.6,1527.8 526.8,1526.7 525.0,1527.8 525.6,1525.8 523.9,1524.5 526.1,1524.4" fill="#fff"/>
<polygon points="599.9,1520.5 600.6,1522.5 602.8,1522.6 601.1,1523.9 601.7,1525.9 599.9,1524.8 598.1,1525.9 598.7,1523.9 597.0,1522.6 599.2,1522.5" fill="#fff"/>
<polygon points="568.6,1535.7 569.3,1537.7 571.5,1537.8 569.8,1539.1 570.4,1541.1 568.6,1540.0 566.8,1541.1 567.4,1539.1 565.7,1537.8 567.9,1537.7" fill="#fff"/>
<polygon points="529.7,1548.0 530.4,1550.0 532.6,1550.1 530.9,1551.4 531.5,1553.4 529.7,1552.3 527.9,1553.4 528.5,1551.4 526.8,1550.1 529.0,1550.0" fill="#fff"/>
<polygon points="431.0,1552.7 431.7,1554.7 433.9,1554.8 432.2,1556.1 432.8,1558.1 431.0,1557.0 429.2,1558.1 429.8,1556.1 428.1,1554.8 430.3,1554.7" fill="#fff"/>
<polygon points="440.4,1566.0 441.1,1568.0 443.3,1568.1 441.6,1569.4 442.2,1571.4 440.4,1570.3 438.6,1571.4 439.2,1569.4 437.5,1568.1 439.7,1568.0" fill="#fff"/>
<polygon points="477.5,1563.2 478.2,1565.2 480.4,1565.3 478.7,1566.6 479.3,1568.6 477.5,1567.5 475.7,1568.6 476.3,1566.6 474.6,1565.3 476.8,1565.2" fill="#fff"/>
<polygon points="657.8,1555.6 658.5,1557.6 660.7,1557.7 659.0,1559.0 659.6,1561.0 657.8,1559.9 656.0,1561.0 656.6,1559.0 654.9,1557.7 657.1,1557.6" fill="#fff"/>
<polygon points="302.8,1543.3 303.5,1545.3 305.7,1545.4 304.0,1546.7 304.6,1548.7 302.8,1547.6 301.0,1548.7 301.6,1546.7 299.9,1545.4 302.1,1545.3" fill="#fff"/>
<polygon points="346.5,1584.0 347.2,1586.0 349.4,1586.1 347.7,1587.4 348.3,1589.4 346.5,1588.3 344.7,1589.4 345.3,1587.4 343.6,1586.1 345.8,1586.0" fill="#fff"/>
<polygon points="352.1,1588.8 352.8,1590.8 355.0,1590.9 353.3,1592.2 353.9,1594.2 352.1,1593.1 350.3,1594.2 350.9,1592.2 349.2,1590.9 351.4,1590.8" fill="#fff"/>
<polygon points="404.4,1606.9 405.1,1608.9 407.3,1609.0 405.6,1610.3 406.2,1612.3 404.4,1611.2 402.6,1612.3 403.2,1610.3 401.5,1609.0 403.7,1608.9" fill="#fff"/>
<polygon points="329.4,1626.8 330.1,1628.8 332.3,1628.9 330.6,1630.2 331.2,1632.2 329.4,1631.1 327.6,1632.2 328.2,1630.2 326.5,1628.9 328.7,1628.8" fill="#fff"/>
<path d="M 243,1680.6 L 431,1626.4 L 620,1640 L 660,1664 L 649,1666.8 L 513.5,1727.9 Z" fill="#e31d25"/>
<path d="M 243,1680.6 L 513.5,1727.9 L 513.5,1785.9 L 243,1721.4 Z" fill="#f7f7f7"/>
<path d="M 513.5,1727.9 L 743.3,1637.7 L 743.3,1676.3 L 513.5,1785.9 Z" fill="#f7f7f7"/>
<path d="M 243,1681 L 243,1721.4 L 513.5,1786 L 743.3,1676.3 L 743.3,1640" stroke="#6b6b6b" stroke-width="4.5" fill="none" stroke-linejoin="round"/>
<path d="M 513.5,1729 C 510,1745 510,1770 513.5,1784 C 517,1770 517,1745 513.5,1729 Z" stroke="#6b6b6b" stroke-width="1.5" fill="none"/>
<path d="M 600,1598 C 612,1594 625,1592 640.5,1592 C 660,1593 680,1597 692,1600.7 C 705,1605 716,1609 726.4,1613.6 C 735,1617 741,1619 745.3,1620.4 C 744,1623 743,1624 743.6,1623.9 C 730,1632 720,1637 709.2,1641 C 695,1646 683,1650 674.9,1653 C 668,1660 664,1664 661.1,1664.2 C 655,1663 652,1662 649,1661.7 C 630,1658 615,1655 606.2,1653 C 585,1648 570,1644 558,1641 Z" fill="#fff" stroke="#fff" stroke-width="8" stroke-linejoin="round"/>
<path d="M 427.5,1617 C 440,1608 460,1594 477,1588 C 490,1581 500,1576 506,1573 C 512,1570 520,1572 524,1574 C 540,1574 570,1576 589,1583 C 600,1587 610,1592 615,1596 L 563,1639 C 556,1641 552,1643 549.5,1643 C 546,1646 543,1646 542.6,1646.2 C 536,1641 530,1638 528.8,1637.6 C 510,1635 490,1631 485.9,1630.7 C 460,1626 445,1623 437.8,1621.3 Z" fill="#fff" stroke="#fff" stroke-width="8" stroke-linejoin="round"/>
<path d="M 558,1641 C 580,1646 620,1656 649,1661.7 C 655,1663 658,1664.5 661,1664.2 C 666,1660 670,1655 675,1653 C 690,1648 710,1641 743.6,1623.9" stroke="#6b6b6b" stroke-width="2.2" fill="none"/>
<path d="M 437.8,1621.3 C 460,1626 500,1633 528.8,1637.6 C 535,1640 540,1645 543,1646 C 546,1646 548,1643 552,1641 L 560,1640" stroke="#6b6b6b" stroke-width="2.2" fill="none"/>
<path d="M 563,1579 C 585,1583 605,1590 614,1596" stroke="#6b6b6b" stroke-width="1.5" fill="none"/>
<path d="M 692,1601 C 705,1605 716,1609 726,1614" stroke="#6b6b6b" stroke-width="1.5" fill="none"/>
<path d="M 551,1623 Q 570,1598 598,1601 Q 574,1607 551,1623 Z" fill="#6b6b6b" stroke="#6b6b6b" stroke-width="2"/>
<path d="M 673,1641 Q 692,1617 721,1620 Q 697,1626 673,1641 Z" fill="#6b6b6b" stroke="#6b6b6b" stroke-width="2"/>
<path d="M 735,1638 L 743,1636 L 743,1640 Z" fill="#e31d25"/>
<path d="M 240.8,1738.6 L 513.5,1807.3 L 751.9,1691.4 M 270.9,1734.3 L 240.8,1738.6 L 253.7,1766.5 M 719.7,1689.2 L 751.9,1691.4 L 741.2,1719.3" stroke="#e31d25" stroke-width="5" fill="none" stroke-linecap="round" stroke-linejoin="round"/>
<text x="760.5" y="1646.3" font-size="78" font-weight="bold" style="fill:#666" textLength="335" lengthAdjust="spacingAndGlyphs">212 x 124</text>
</svg></body></html>
